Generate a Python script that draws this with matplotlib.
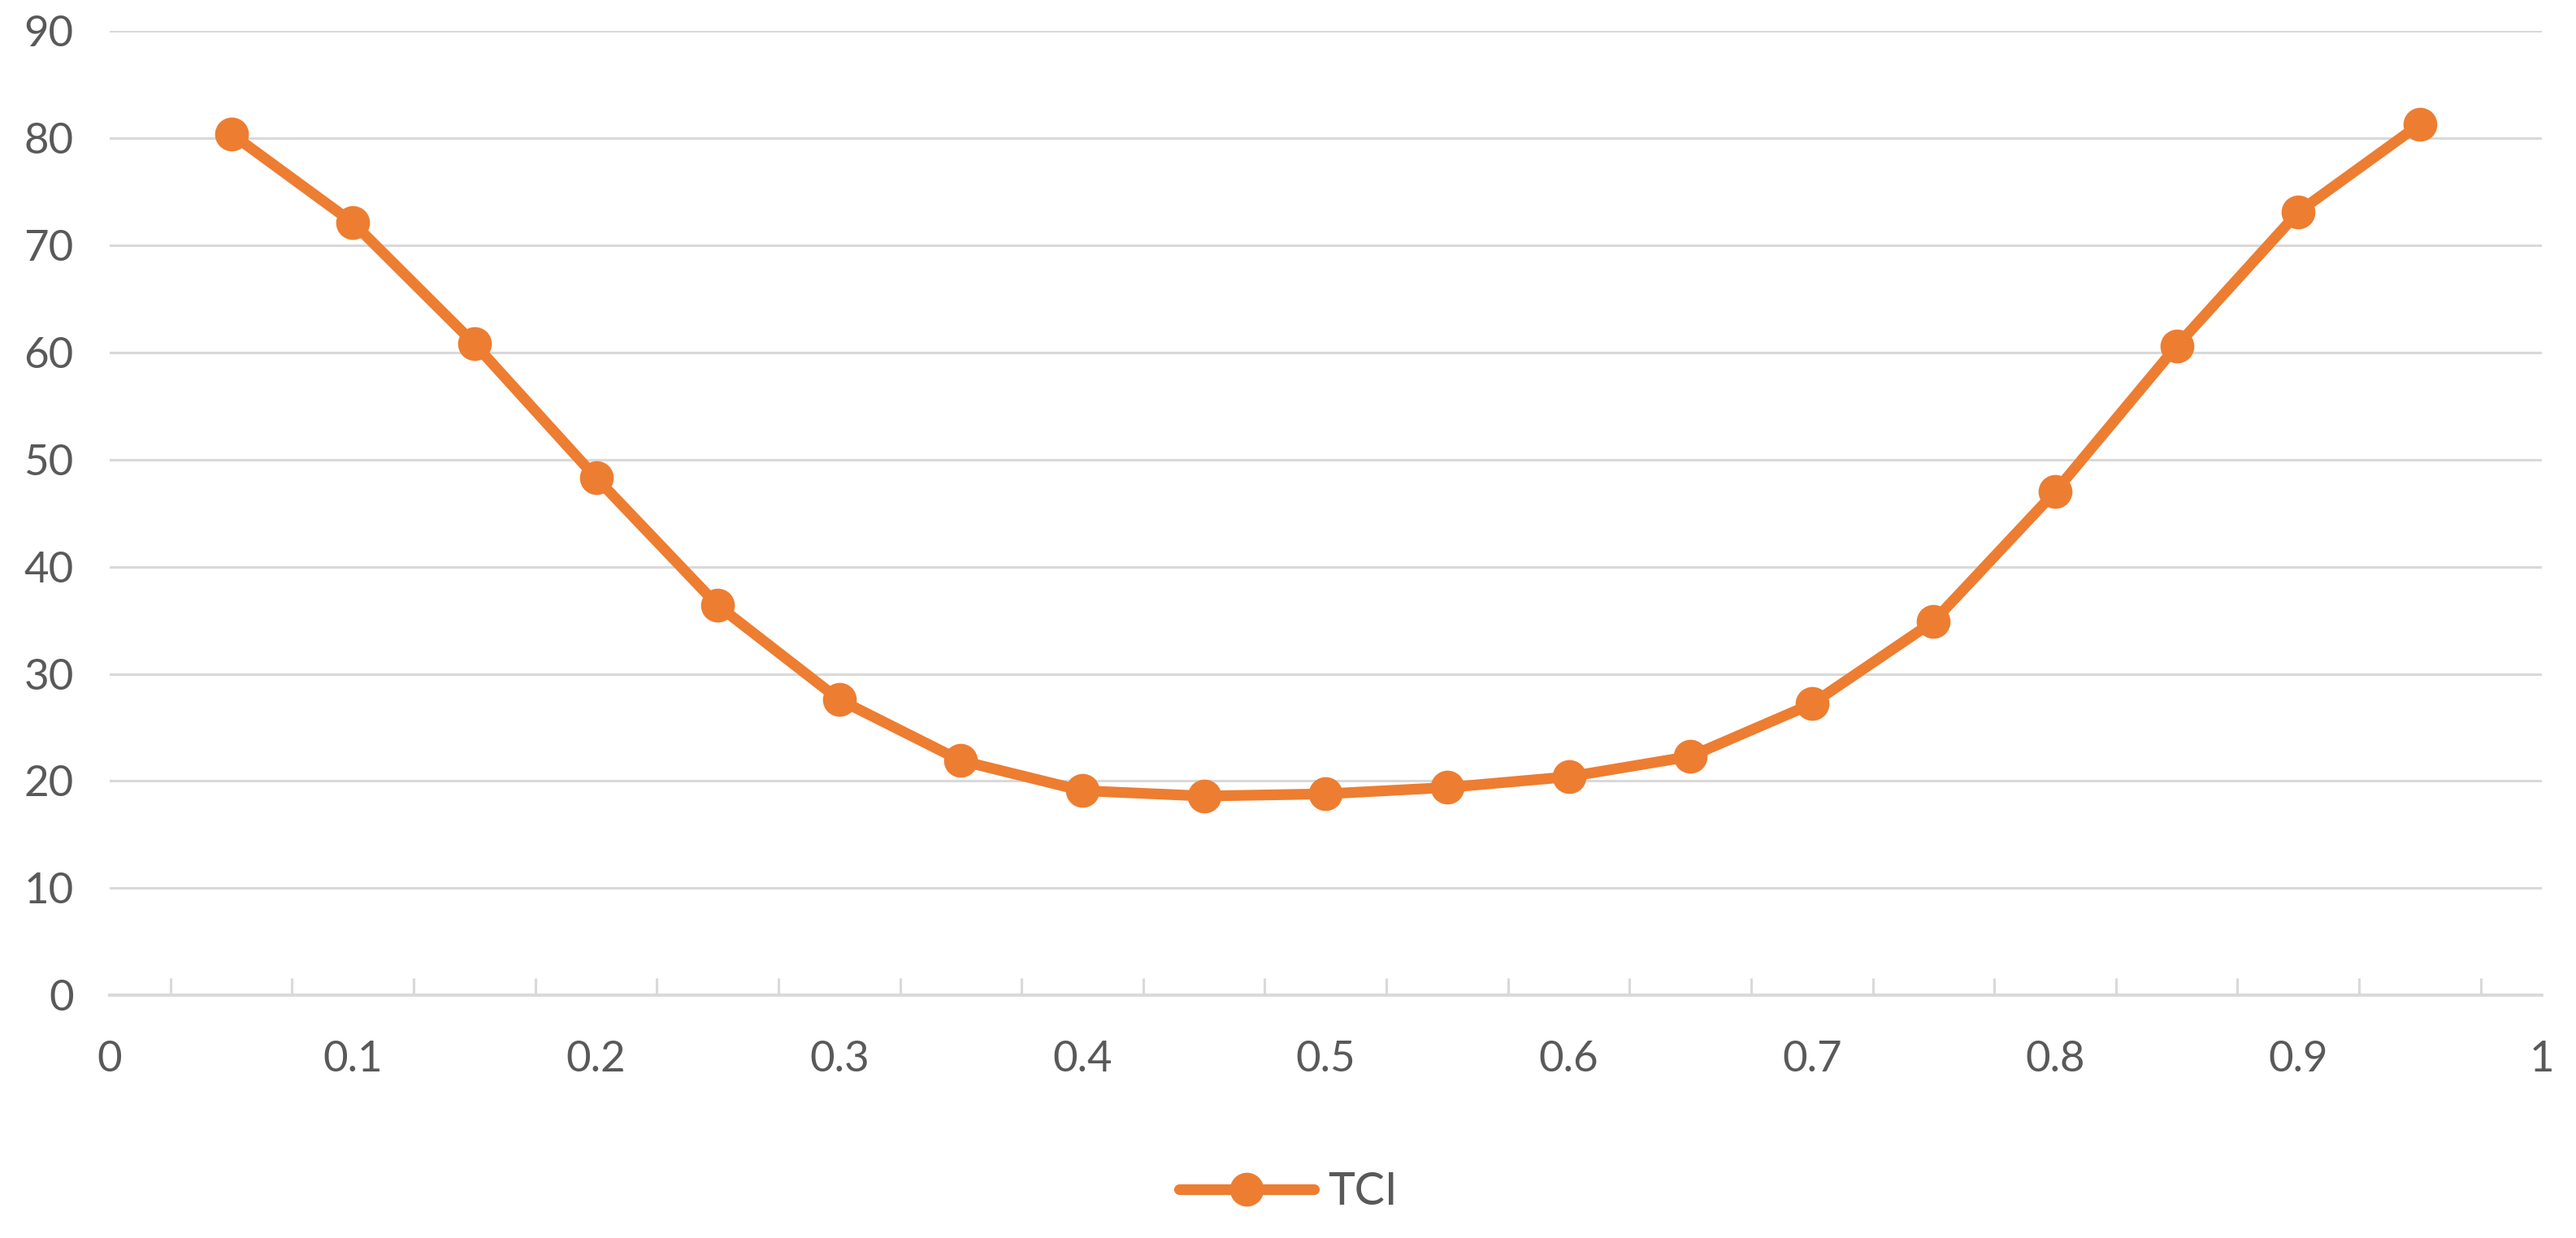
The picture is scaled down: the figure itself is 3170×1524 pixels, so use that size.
#!/usr/bin/env python3
"""Line chart of TCI against the parameter value"""
import numpy as np
import matplotlib
matplotlib.use("Agg")
import matplotlib.pyplot as plt

# x values (parameter) and TCI
x_vals = [0.05, 0.10, 0.15, 0.20, 0.25, 0.30, 0.35, 0.40, 0.45, 0.50,
          0.55, 0.60, 0.65, 0.70, 0.75, 0.80, 0.85, 0.90, 0.95]
tci = [80.4, 72.1, 60.8, 48.3, 36.4, 27.6, 21.9, 19.1, 18.6, 18.8,
       19.4, 20.4, 22.3, 27.2, 34.9, 47.0, 60.6, 73.1, 81.3]
y_ticks = [0, 10, 20, 30, 40, 50, 60, 70, 80, 90]
x_ticks = [0, 0.1, 0.2, 0.3, 0.4, 0.5, 0.6, 0.7, 0.8, 0.9, 1]
x_tick_labels = ["0", "0.1", "0.2", "0.3", "0.4", "0.5", "0.6", "0.7", "0.8", "0.9", "1"]

orange = "#ED7D31"
grid_c = "#D9D9D9"
text_c = "#595959"

plt.rcParams["font.family"] = ["Lato", "DejaVu Sans"]

fig = plt.figure(figsize=(31.7, 15.24), dpi=100)
ax = fig.add_axes([0.0426, 0.196, 0.944, 0.779])

# horizontal gridlines
for v in y_ticks[1:]:
    ax.axhline(v, color=grid_c, linewidth=2.2, zorder=1)

ax.plot(x_vals, tci, color=orange, linewidth=9.5, marker="o", markersize=29,
        solid_capstyle="round", solid_joinstyle="round", label="TCI", zorder=3)

ax.set_xlim(0, 1.0)
ax.set_ylim(0, 90)
ax.set_yticks(y_ticks)
ax.set_xticks(x_ticks)
ax.set_xticklabels(x_tick_labels)

# small tick marks sit between the labels, as in the original
minor = list(np.arange(0.025, 1.0, 0.05)) + [1.0]
ax.set_xticks(minor, minor=True)

for s in ["top", "right", "left"]:
    ax.spines[s].set_visible(False)
ax.spines["bottom"].set_color(grid_c)
ax.spines["bottom"].set_linewidth(2.8)

ax.tick_params(axis="y", length=0, pad=32, labelsize=38, labelcolor=text_c)
ax.tick_params(axis="x", which="major", length=0, pad=40, labelsize=38,
               labelcolor=text_c)
ax.tick_params(axis="x", which="minor", direction="in", length=15, width=2.2,
               color=grid_c)

fig.legend(loc="center", bbox_to_anchor=(0.5, 0.037), frameon=False,
           fontsize=40, labelcolor=text_c, handlelength=3.0, handletextpad=0.3)

fig.savefig("out.png", dpi=100, facecolor="white")
